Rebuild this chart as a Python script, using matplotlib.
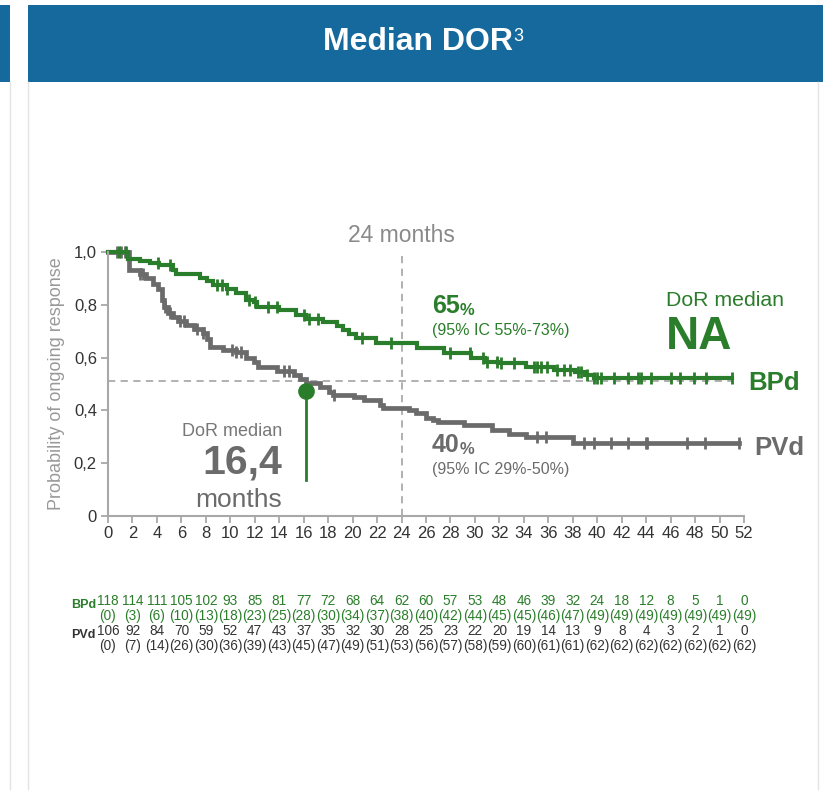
import numpy as np
import matplotlib
matplotlib.use("Agg")
import matplotlib.pyplot as plt
import matplotlib.patches as mpatches
import matplotlib.lines as mlines
import matplotlib.transforms as mtransforms

# ================= DATA =================
# Kaplan-Meier steps (months, probability)
BPD_T = [0, 1.6, 2.6, 3.4, 4.2, 5.3, 5.6, 7.5, 8.1, 8.6, 9.7, 10.5, 11.3, 11.9,
         12.2, 14.0, 15.4, 16.2, 17.6, 18.7, 19.2, 19.7, 20.3, 21.9, 25.3,
         27.5, 29.7, 30.8, 31.9, 34.2, 36.5, 38.2, 39.0, 39.7, 51.0]
BPD_S = [1.0, 0.975, 0.965, 0.96, 0.95, 0.93, 0.915, 0.90, 0.89, 0.875, 0.86,
         0.845, 0.82, 0.81, 0.79, 0.78, 0.76, 0.745, 0.735, 0.72, 0.705, 0.69,
         0.675, 0.654, 0.635, 0.616, 0.597, 0.585, 0.578, 0.566, 0.553, 0.547,
         0.535, 0.522, 0.522]
BPD_CENS = [0.9, 1.5, 4.1, 5.1, 8.9, 9.3, 9.7, 11.5, 12.0, 13.1, 13.8, 16.0,
            16.4, 17.2, 20.8, 23.1, 28.0, 29.6, 30.7, 31.0, 31.8, 32.1, 33.2,
            34.8, 35.1, 35.4, 35.9, 36.7, 37.3, 37.8, 38.4, 38.7, 39.2, 39.7,
            40.0, 40.3, 41.4, 42.5, 43.3, 43.6, 44.4, 46.0, 46.8, 47.9, 48.9,
            51.0]

PVD_T = [0, 1.7, 2.6, 3.1, 3.7, 4.1, 4.4, 4.6, 4.9, 5.3, 5.7, 6.4, 7.0, 7.8,
         8.1, 8.3, 9.4, 10.5, 11.3, 11.9, 12.3, 13.8, 15.2, 15.7, 16.2, 17.3,
         18.1, 18.4, 20.1, 20.9, 22.2, 22.5, 24.6, 25.2, 26.0, 26.6, 27.0,
         29.1, 31.4, 32.8, 34.2, 38.0, 51.6]
PVD_S = [1.0, 0.93, 0.915, 0.9, 0.88, 0.86, 0.82, 0.79, 0.77, 0.755, 0.74,
         0.725, 0.71, 0.695, 0.67, 0.64, 0.628, 0.62, 0.6, 0.585, 0.565, 0.55,
         0.535, 0.52, 0.505, 0.49, 0.47, 0.46, 0.451, 0.44, 0.42, 0.41, 0.40,
         0.389, 0.37, 0.362, 0.356, 0.343, 0.325, 0.312, 0.30, 0.275, 0.275]
PVD_CENS = [0.7, 1.1, 1.4, 2.6, 2.9, 4.7, 5.1, 5.9, 6.2, 7.3, 7.8, 10.1, 10.5,
            10.9, 14.4, 14.8, 18.5, 35.1, 35.8, 38.9, 39.7, 41.1, 42.5, 44.0,
            44.1, 47.3, 48.8, 51.6]

MEDIAN_PVD = 16.2
MEDIAN_LEVEL = 0.51
LANDMARK = 24

# Patients at risk (censored in brackets)
RISK_MONTHS = list(range(0, 53, 2))
BPD_RISK = [118, 114, 111, 105, 102, 93, 85, 81, 77, 72, 68, 64, 62, 60, 57,
            53, 48, 46, 39, 32, 24, 18, 12, 8, 5, 1, 0]
BPD_CENSORED = [0, 3, 6, 10, 13, 18, 23, 25, 28, 30, 34, 37, 38, 40, 42, 44,
                45, 45, 46, 47, 49, 49, 49, 49, 49, 49, 49]
PVD_RISK = [106, 92, 84, 70, 59, 52, 47, 43, 37, 35, 32, 30, 28, 25, 23, 22,
            20, 19, 14, 13, 9, 8, 4, 3, 2, 1, 0]
PVD_CENSORED = [0, 7, 14, 26, 30, 36, 39, 43, 45, 47, 49, 51, 53, 56, 57, 58,
                59, 60, 61, 61, 62, 62, 62, 62, 62, 62, 62]

Y_TICKS = [0, 0.2, 0.4, 0.6, 0.8, 1.0]
Y_TICK_LABELS = ["0", "0,2", "0,4", "0,6", "0,8", "1,0"]

# ================= STYLE =================
W, H = 823, 790
GREEN = "#2A7D2A"
GRAY = "#6B6B6B"
BLUE = "#15699C"
AXIS = "#A8A8A8"
DASH = "#AAAAAA"
TICKTXT = "#333333"

plt.rcParams["font.family"] = ["Liberation Sans", "DejaVu Sans"]


def fx(x):
    return x / W


def fy(y):
    return 1 - y / H


def step_value(times, surv, t):
    i = np.searchsorted(times, t, side="right") - 1
    return np.asarray(surv)[np.clip(i, 0, len(surv) - 1)]


fig = plt.figure(figsize=(W / 100, H / 100), dpi=100, facecolor="white")

# --- Header band and card borders (behind everything) ---
fig.add_artist(mpatches.Rectangle((fx(28), fy(82)), fx(W - 28), (82 - 5) / H,
                                  transform=fig.transFigure, color=BLUE, lw=0,
                                  zorder=-5))
fig.add_artist(mpatches.Rectangle((0, fy(82)), fx(10), (82 - 5) / H,
                                  transform=fig.transFigure, color=BLUE, lw=0,
                                  zorder=-5))
for xb in (10, 28, 818):
    fig.add_artist(mlines.Line2D([fx(xb), fx(xb)], [0, fy(82)],
                                 transform=fig.transFigure, color="#E4E4E4",
                                 lw=1, zorder=-5))

# --- KM axes ---
ax = fig.add_axes([fx(108), fy(516), (744 - 108) / W, (516 - 252) / H])
ax.set_xlim(0, 52)
ax.set_ylim(0, 1.0)

title = fig.text(fx(418), fy(42), "Median DOR", ha="center", va="center",
                 fontsize=23, fontweight="bold", color="white")
ax.annotate("3", xy=(1, 1), xycoords=title, xytext=(0, -1),
            textcoords="offset points", ha="left", va="top",
            fontsize=13, color="white", annotation_clip=False)

ax.axvline(LANDMARK, ymin=0, ymax=1, color=DASH, lw=1.3, ls=(0, (4, 3)))
ax.plot([0, 51], [MEDIAN_LEVEL, MEDIAN_LEVEL], color=DASH, lw=1.3,
        ls=(0, (4, 3)))

ax.step(PVD_T, PVD_S, where="post", color=GRAY, lw=3.4, clip_on=False,
        solid_joinstyle="miter")
ax.plot(PVD_CENS, step_value(PVD_T, PVD_S, PVD_CENS), ls="none", marker="|",
        ms=8, mew=2, color=GRAY, clip_on=False)
ax.step(BPD_T, BPD_S, where="post", color=GREEN, lw=3.0, clip_on=False,
        solid_joinstyle="miter")
ax.plot(BPD_CENS, step_value(BPD_T, BPD_S, BPD_CENS), ls="none", marker="|",
        ms=8, mew=2, color=GREEN, clip_on=False)

# Median marker
ax.plot([MEDIAN_PVD, MEDIAN_PVD], [0.135, 0.473], color=GREEN, lw=2)
ax.plot([MEDIAN_PVD], [0.473], marker="o", ms=11, color=GREEN, clip_on=False)

ax.set_xticks(RISK_MONTHS)
ax.set_xticklabels([str(m) for m in RISK_MONTHS])
ax.set_yticks(Y_TICKS)
ax.set_yticklabels(Y_TICK_LABELS)
ax.tick_params(axis="both", colors=AXIS, labelcolor=TICKTXT, length=5,
               width=1.3, direction="out")
ax.tick_params(axis="x", labelsize=12, pad=2)
ax.tick_params(axis="y", labelsize=12, pad=3)
for s in ("top", "right"):
    ax.spines[s].set_visible(False)
for s in ("left", "bottom"):
    ax.spines[s].set_color(AXIS)
    ax.spines[s].set_linewidth(1.5)
ax.set_ylabel("Probability of ongoing response", fontsize=13, color="#999999",
              labelpad=6)

# --- Annotations ---
fig.text(fx(401), fy(236), "24 months", ha="center", va="center",
         fontsize=16.5, color="#8A8A8A")

fig.text(fx(282), fy(432), "DoR median", ha="right", va="center",
         fontsize=13, color="#777777")
fig.text(fx(282), fy(463), "16,4", ha="right", va="center", fontsize=29.5,
         fontweight="bold", color=GRAY)
fig.text(fx(282), fy(500), "months", ha="right", va="center", fontsize=19,
         color=GRAY)

t65 = fig.text(fx(432), fy(306), "65", ha="left", va="center", fontsize=18,
               fontweight="bold", color=GREEN)
ax.annotate("%", xy=(1, 0), xycoords=t65, xytext=(0, 0),
            textcoords="offset points", ha="left", va="bottom", fontsize=12,
            fontweight="bold", color=GREEN, annotation_clip=False)
fig.text(fx(432), fy(331), "(95% IC 55%-73%)", ha="left", va="center",
         fontsize=11.5, color=GREEN)

t40 = fig.text(fx(432), fy(445), "40", ha="left", va="center", fontsize=18,
               fontweight="bold", color=GRAY)
ax.annotate("%", xy=(1, 0), xycoords=t40, xytext=(0, 0),
            textcoords="offset points", ha="left", va="bottom", fontsize=12,
            fontweight="bold", color=GRAY, annotation_clip=False)
fig.text(fx(432), fy(470), "(95% IC 29%-50%)", ha="left", va="center",
         fontsize=11.5, color=GRAY)

fig.text(fx(666), fy(300), "DoR median", ha="left", va="center",
         fontsize=15.3, color=GREEN)
fig.text(fx(666), fy(337), "NA", ha="left", va="center", fontsize=33,
         fontweight="bold", color=GREEN)

fig.text(fx(748), fy(383), "BPd", ha="left", va="center", fontsize=18.5,
         fontweight="bold", color=GREEN)
fig.text(fx(754), fy(448), "PVd", ha="left", va="center", fontsize=18.5,
         fontweight="bold", color=GRAY)

# --- Number at risk table ---
trans = mtransforms.blended_transform_factory(ax.transData, fig.transFigure)
rows = [
    (601, BPD_RISK, False, GREEN),
    (616, BPD_CENSORED, True, GREEN),
    (631, PVD_RISK, False, TICKTXT),
    (646, PVD_CENSORED, True, TICKTXT),
]
for ypix, vals, paren, col in rows:
    for m, v in zip(RISK_MONTHS, vals):
        txt = f"({v})" if paren else str(v)
        ax.text(m, fy(ypix), txt, transform=trans, ha="center", va="center",
                fontsize=9.8, color=col, clip_on=False)

fig.text(fx(96), fy(605), "BPd", ha="right", va="center", fontsize=9,
         fontweight="bold", color=GREEN)
fig.text(fx(96), fy(635), "PVd", ha="right", va="center", fontsize=9,
         fontweight="bold", color=TICKTXT)

fig.savefig("out.png", dpi=100, facecolor="white")
